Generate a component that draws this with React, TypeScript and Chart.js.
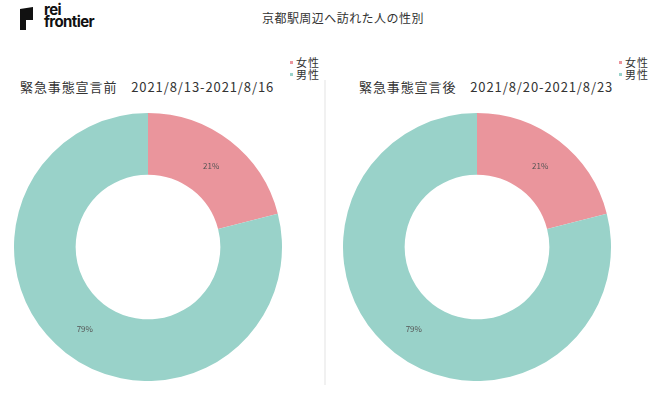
import React, { useEffect, useRef } from "react";
import { Chart, registerables } from "chart.js";

Chart.register(...registerables);

const chartTitle = "京都駅周辺へ訪れた人の性別";
const categories = ["女性", "男性"];
const colors = ["#ea959c", "#99d2c9"];
const beforeValues = [21, 79];
const afterValues = [21, 79];
const panelTitles = [
  "緊急事態宣言前　2021/8/13-2021/8/16",
  "緊急事態宣言後　2021/8/20-2021/8/23",
];

const FONT = "'Noto Sans CJK JP', 'Noto Sans', sans-serif";

const labelPlugin = {
  id: "sliceLabels",
  afterDatasetsDraw(chart: any) {
    const ctx = chart.ctx;
    const meta = chart.getDatasetMeta(0);
    const data = chart.data.datasets[0].data as number[];
    const total = data.reduce((a, b) => a + b, 0);
    ctx.save();
    ctx.font = `8px ${FONT}`;
    ctx.fillStyle = "#555";
    ctx.textAlign = "center";
    ctx.textBaseline = "middle";
    meta.data.forEach((el: any, i: number) => {
      const p = el.tooltipPosition();
      ctx.fillText(Math.round((data[i] / total) * 100) + "%", p.x, p.y);
    });
    ctx.restore();
  },
};

function Donut({ values, left }: { values: number[]; left: number }) {
  const ref = useRef<HTMLCanvasElement>(null);
  useEffect(() => {
    const chart = new Chart(ref.current!, {
      type: "doughnut",
      data: {
        labels: categories,
        datasets: [
          {
            data: values,
            backgroundColor: colors,
            borderWidth: 0,
          },
        ],
      },
      options: {
        responsive: false,
        animation: false,
        cutout: "54%",
        layout: { padding: 0 },
        plugins: {
          legend: { display: false },
          tooltip: { enabled: false },
        },
      },
      plugins: [labelPlugin],
    });
    return () => chart.destroy();
  }, []);
  return (
    <canvas
      ref={ref}
      width={268}
      height={268}
      style={{ position: "absolute", left, top: 113, width: 268, height: 268 }}
    />
  );
}

function Legend({ left }: { left: number }) {
  return (
    <div style={{ position: "absolute", left, top: 56 }}>
      {categories.map((c, i) => (
        <div
          key={c}
          style={{
            display: "flex",
            alignItems: "center",
            height: 12,
            fontSize: 11,
            color: "#333",
            letterSpacing: 1,
            fontFamily: FONT,
          }}
        >
          <span
            style={{
              display: "inline-block",
              width: 3,
              height: 3,
              background: colors[i],
              marginRight: 3,
            }}
          />
          <span style={{ color: "#333" }}>{c}</span>
        </div>
      ))}
    </div>
  );
}

export default function App() {
  useEffect(() => {
    document.body.style.margin = "0";
  }, []);
  return (
    <div
      style={{
        position: "fixed",
        left: 0,
        top: 0,
        width: 650,
        height: 409,
        background: "#fff",
        overflow: "hidden",
        fontFamily: FONT,
      }}
    >
      <svg
        width={14}
        height={24}
        style={{ position: "absolute", left: 20, top: 7 }}
      >
        <polygon points="0,2 13,0 13,13 6,13 6,23 0,23" fill="#111" />
      </svg>
      <div
        style={{
          position: "absolute",
          left: 44,
          top: 4,
          fontFamily: "Inter, Roboto, sans-serif",
          fontWeight: 700,
          fontSize: 15,
          lineHeight: "12px",
          letterSpacing: -0.6,
          color: "#111",
        }}
      >
        <div>rei</div>
        <div>frontier</div>
      </div>
      <div
        style={{
          position: "absolute",
          left: 262,
          top: 9,
          fontSize: 12,
          letterSpacing: 0.45,
          color: "#333",
          whiteSpace: "nowrap",
          lineHeight: "18px",
        }}
      >
        {chartTitle}
      </div>
      <div
        style={{
          position: "absolute",
          left: 20,
          top: 78,
          fontSize: 13,
          letterSpacing: 0.9,
          color: "#333",
          whiteSpace: "nowrap",
          lineHeight: "18px",
        }}
      >
        {panelTitles[0]}
      </div>
      <div
        style={{
          position: "absolute",
          left: 359,
          top: 78,
          fontSize: 13,
          letterSpacing: 0.9,
          color: "#333",
          whiteSpace: "nowrap",
          lineHeight: "18px",
        }}
      >
        {panelTitles[1]}
      </div>
      <Legend left={290} />
      <Legend left={619} />
      <div
        style={{
          position: "absolute",
          left: 324,
          top: 80,
          width: 2,
          height: 305,
          background: "#f1f1f1",
        }}
      />
      <Donut values={beforeValues} left={14} />
      <Donut values={afterValues} left={343} />
    </div>
  );
}
